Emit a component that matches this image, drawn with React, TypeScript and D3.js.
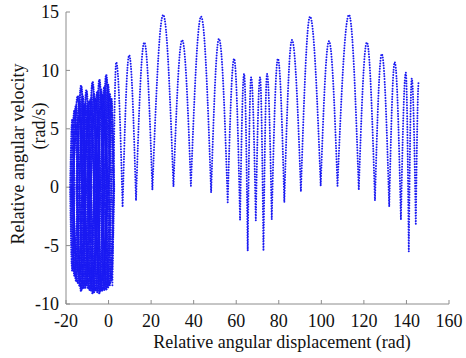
import React from 'react';
import * as d3 from 'd3';

const W = 466;
const H = 358;

const xTicks = [-20, 0, 20, 40, 60, 80, 100, 120, 140, 160];
const yTicks = [-10, -5, 0, 5, 10, 15];

// rotating part: crests and cusps of the arches
const peakX = [3.6, 9.7, 16.8, 25.7, 34.6, 43.5, 51.9, 59.0, 63.7, 67.0, 71.2, 74.5, 79.6, 86.2, 94.7, 103.6, 113.0, 121.4, 128.4, 134.5, 139.7, 142.5];
const peakV = [10.7, 11.3, 12.4, 14.76, 12.6, 14.6, 12.7, 11.0, 9.7, 9.4, 9.4, 9.7, 11.0, 12.6, 14.6, 12.5, 14.76, 12.4, 11.4, 10.7, 9.8, 9.3];
const troughX = [6.6, 12.9, 20.6, 30.5, 38.7, 48.2, 56.0, 61.8, 65.4, 69.2, 72.8, 76.7, 82.6, 90.4, 99.7, 107.6, 117.6, 125.2, 131.9, 137.4, 141.1, 144.4];
const troughV = [-1.7, -1.15, -0.23, 0.05, 0.1, -0.46, -1.3, -2.8, -5.45, -2.85, -5.45, -2.75, -1.3, -0.38, 0.1, 0.1, -0.23, -1.15, -1.67, -2.8, -5.5, -3.25];
const startPt = [1.8, -8.4];
const endPt = [145.8, 9.1];

// oscillating part (left block): loops, centre / half width / top / bottom
const loopCx = [-16.0, -14.5, -12.9, -11.6, -10.4, -9.0, -7.5, -6.2, -4.3, -2.9, -1.1, 0.5, -13.8, -8.2, -3.6,
  -17.0, -15.3, -13.6, -12.2, -10.9, -9.6, -8.3, -6.9, -5.3, -3.6, -2.0, -0.3, 1.3];
const loopHalfW = [1.5, 2.1, 1.8, 2.0, 1.6, 2.2, 1.8, 2.1, 1.7, 2.0, 1.7, 1.8, 3.4, 3.8, 3.5,
  1.0, 1.6, 1.4, 1.5, 1.7, 1.5, 1.6, 1.7, 1.5, 1.6, 1.5, 1.6, 1.3];
const loopTop = [6.6, 7.8, 8.7, 7.0, 8.3, 7.4, 9.0, 7.6, 9.2, 7.9, 9.6, 8.0, 6.0, 6.4, 6.8,
  5.8, 7.0, 7.4, 7.8, 7.2, 7.0, 7.6, 8.0, 8.2, 8.4, 8.6, 8.8, 7.6];
const loopBottom = [-7.6, -8.2, -8.9, -8.6, -8.4, -8.8, -9.1, -8.9, -9.1, -8.9, -8.8, -8.4, -7.4, -8.0, -8.2,
  -7.2, -8.0, -8.5, -8.7, -8.6, -8.7, -8.9, -9.0, -9.0, -8.9, -8.8, -8.6, -8.0];

const x = d3.scaleLinear().domain([-20, 160]).range([66, 449]);
const y = d3.scaleLinear().domain([-10, 15]).range([304, 12]);

const BLUE = '#1a1af2';
const AXIS = '#8c8c8c';
const FONT = '"Liberation Serif", "Times New Roman", Times, serif';

// quarter-sine shaped cubic from a low/turning point up to a crest
function rise(p: d3.Path, x0: number, y0: number, x1: number, y1: number) {
  p.bezierCurveTo(x0 + (x1 - x0) * 0.326, y0 + (y1 - y0) * 0.512, x0 + (x1 - x0) * 0.638, y1, x1, y1);
}
// mirror: crest down to low point
function fall(p: d3.Path, x0: number, y0: number, x1: number, y1: number) {
  p.bezierCurveTo(x0 + (x1 - x0) * 0.362, y0, x0 + (x1 - x0) * 0.674, y0 + (y1 - y0) * 0.488, x1, y1);
}

function archPath() {
  const p = d3.path();
  let cx = x(startPt[0]);
  let cy = y(startPt[1]);
  p.moveTo(cx, cy);
  peakX.forEach((px, i) => {
    const nx = x(px), ny = y(peakV[i]);
    rise(p, cx, cy, nx, ny);
    const tx = x(troughX[i]), ty = y(troughV[i]);
    fall(p, nx, ny, tx, ty);
    cx = tx; cy = ty;
  });
  rise(p, cx, cy, x(endPt[0]), y(endPt[1]));
  return p.toString();
}

function loopPath(i: number) {
  const p = d3.path();
  const l = x(loopCx[i] - loopHalfW[i]);
  const r = x(loopCx[i] + loopHalfW[i]);
  const c = x(loopCx[i]);
  const z = y(0);
  const t = y(loopTop[i]);
  const b = y(loopBottom[i]);
  p.moveTo(l, z);
  rise(p, l, z, c, t);
  fall(p, c, t, r, z);
  rise(p, r, z, c, b);
  fall(p, c, b, l, z);
  return p.toString();
}

export default function App() {
  const dots = { fill: 'none', stroke: BLUE, strokeWidth: 2, strokeLinecap: 'round' as const, strokeDasharray: '0 2.7' };
  const denseDots = { ...dots, strokeWidth: 2.3, strokeDasharray: '0 2.3' };
  const txt = { fontFamily: FONT, fontSize: 18, fill: '#111' };
  return (
    <svg width={W} height={H} style={{ position: 'absolute', left: 0, top: 0, background: '#fff' }}>
      {/* axes */}
      <line x1={66} x2={66} y1={y(15)} y2={y(-10)} stroke={AXIS} />
      <line x1={66} x2={x(160)} y1={y(-10)} y2={y(-10)} stroke={AXIS} />
      {yTicks.map(v => (
        <g key={'y' + v}>
          <line x1={66} x2={70} y1={y(v)} y2={y(v)} stroke={AXIS} />
          <text x={59} y={y(v)} dy="0.34em" textAnchor="end" style={txt}>{v}</text>
        </g>
      ))}
      {xTicks.map(v => (
        <g key={'x' + v}>
          <line x1={x(v)} x2={x(v)} y1={y(-10)} y2={y(-10) - 4} stroke={AXIS} />
          <text x={x(v)} y={327} textAnchor="middle" style={txt}>{v}</text>
        </g>
      ))}
      <text x={282} y={348} textAnchor="middle" style={txt}>Relative angular displacement (rad)</text>
      <text transform="translate(24,154) rotate(-90)" textAnchor="middle" style={txt}>Relative angular velocity</text>
      <text transform="translate(45,126) rotate(-90)" textAnchor="middle" style={txt}>(rad/s)</text>

      {/* trajectory */}
      {loopCx.map((_, i) => (
        <path key={'l' + i} d={loopPath(i)} {...denseDots} />
      ))}
      <path d={archPath()} {...dots} />
    </svg>
  );
}
